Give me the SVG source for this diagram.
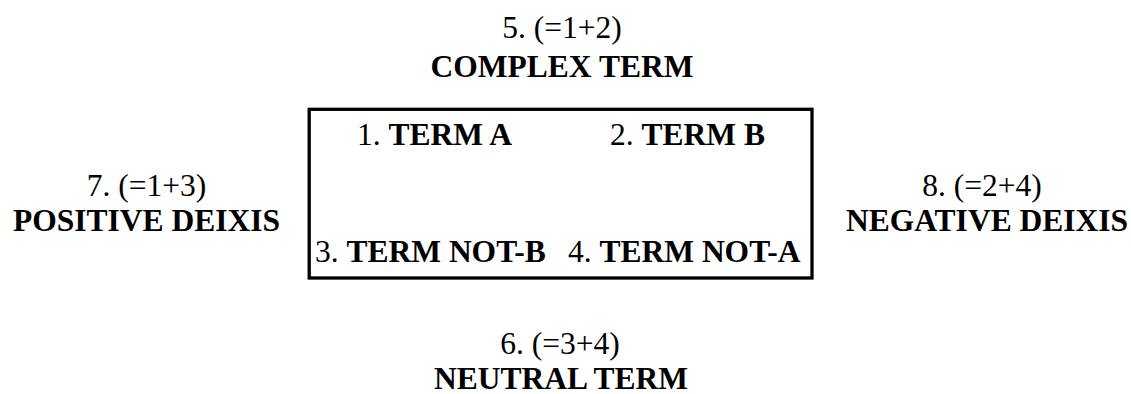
<svg xmlns="http://www.w3.org/2000/svg" width="1131" height="394" viewBox="0 0 1131 394">
<style>
text{font-family:"Liberation Serif","Times New Roman",serif;font-size:31.5px;fill:#000}
.b{font-weight:bold}
.c{text-anchor:middle}
.box{fill:none;stroke:#000;stroke-width:3.3}
</style>
<rect width="1131" height="394" fill="#fff"/>
<g id="connectors"></g>
<g id="square">
<rect class="box" x="309.2" y="109.3" width="502.8" height="168.7"/>
</g>
<g id="term1"><text x="357" y="145">1. <tspan class="b">TERM A</tspan></text></g>
<g id="term2"><text x="610" y="145">2. <tspan class="b">TERM B</tspan></text></g>
<g id="term3"><text x="315" y="262">3. <tspan class="b">TERM NOT-B</tspan></text></g>
<g id="term4"><text x="568" y="262">4. <tspan class="b">TERM NOT-A</tspan></text></g>
<g id="term5">
<text class="c" x="562" y="38">5. (=1+2)</text>
<text class="c b" x="562" y="77">COMPLEX TERM</text>
</g>
<g id="term6">
<text class="c" x="560" y="354">6. (=3+4)</text>
<text class="c b" x="561" y="389">NEUTRAL TERM</text>
</g>
<g id="term7">
<text class="c" x="146.5" y="196">7. (=1+3)</text>
<text class="c b" x="146.5" y="231">POSITIVE DEIXIS</text>
</g>
<g id="term8">
<text class="c" x="982" y="196">8. (=2+4)</text>
<text class="c b" x="987" y="231">NEGATIVE DEIXIS</text>
</g>
</svg>
